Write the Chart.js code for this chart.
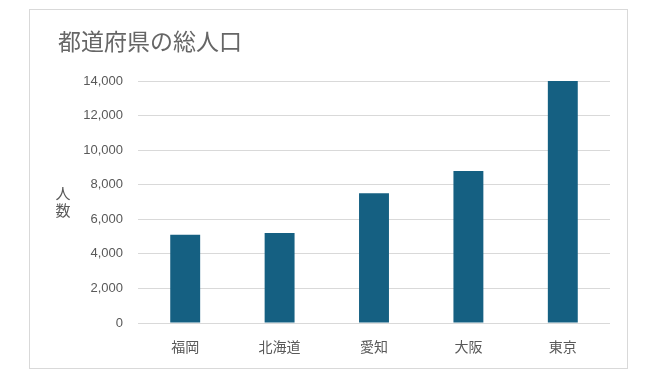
<!DOCTYPE html>
<html lang="ja">
<head>
<meta charset="UTF-8">
<title>都道府県の総人口</title>
<script src="https://cdn.jsdelivr.net/npm/chart.js"></script>
<style>
  body { margin: 0; background: #fff; }
  #box { position: absolute; left: 29px; top: 9px; width: 597px; height: 358px; border: 1px solid #d9d9d9; }
</style>
</head>
<body>
<div id="box"><canvas id="myChart" width="597" height="358"></canvas></div>
<script>
  const prefectures = ["福岡", "北海道", "愛知", "大阪", "東京"];
  const population = [5100, 5200, 7500, 8800, 14000];
  const yTicks = [0, 2000, 4000, 6000, 8000, 10000, 12000, 14000];

  const textColor = "#595959";
  const jpFont = "'Noto Sans CJK JP', 'Noto Sans', sans-serif";

  // vertical axis title "人数", one character per line
  const axisTitle = {
    id: "axisTitle",
    afterDraw(chart) {
      const ctx = chart.ctx;
      ctx.save();
      ctx.fillStyle = textColor;
      ctx.font = "15px " + jpFont;
      ctx.textAlign = "center";
      ctx.textBaseline = "middle";
      ctx.fillText("人", 33, 183);
      ctx.fillText("数", 33, 200);
      ctx.restore();
    }
  };

  new Chart(document.getElementById("myChart"), {
    type: "bar",
    data: {
      labels: prefectures,
      datasets: [{
        data: population,
        backgroundColor: "#156082",
        barPercentage: 1,
        categoryPercentage: 0.317
      }]
    },
    options: {
      responsive: false,
      animation: false,
      layout: { padding: { left: 28, right: 17, top: 0, bottom: 0 } },
      plugins: {
        legend: { display: false },
        tooltip: { enabled: false },
        title: {
          display: true,
          text: "都道府県の総人口",
          align: "start",
          color: "#666666",
          font: { family: jpFont, size: 23, weight: "normal", lineHeight: 1.2 },
          padding: { top: 17.7, bottom: 25.7 }
        }
      },
      scales: {
        x: {
          grid: { display: false },
          border: { display: false },
          ticks: { color: textColor, font: { family: jpFont, size: 14 }, padding: 7 },
          afterFit(scale) { scale.height = 45; }
        },
        y: {
          min: 0,
          max: 14000,
          afterBuildTicks(scale) { scale.ticks = yTicks.map(v => ({ value: v })); },
          grid: { color: "#d9d9d9", drawTicks: false },
          border: { display: false },
          ticks: {
            color: textColor,
            font: { family: "'Liberation Sans', Arial, sans-serif", size: 13 },
            padding: 15,
            callback: v => v.toLocaleString("en-US")
          },
          afterFit(scale) { scale.width = 80; }
        }
      }
    },
    plugins: [axisTitle]
  });
</script>
</body>
</html>
